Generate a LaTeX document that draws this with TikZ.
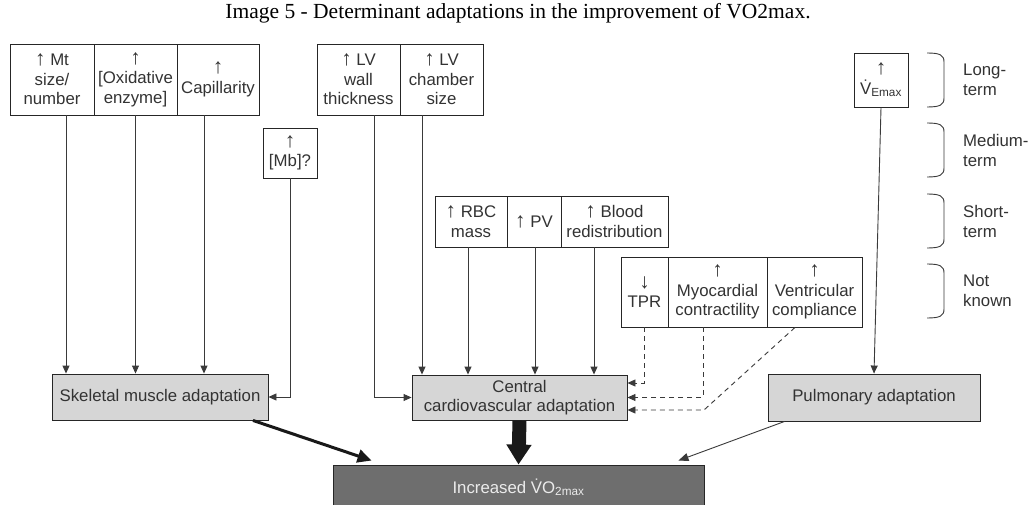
\documentclass[tikz,border=0pt]{standalone}
\usepackage{fontspec}
\setmainfont{Liberation Sans}
\newfontfamily\titlefont{Liberation Serif}
\usetikzlibrary{arrows.meta,calc}
\definecolor{boxgrey}{HTML}{D6D6D6}
\definecolor{incgrey}{HTML}{6E6E6E}
\definecolor{linegrey}{HTML}{3A3A3A}
\newcommand\upar{{\fontsize{21}{19.5}\selectfont ↑}}
\newcommand\downar{{\fontsize{21}{19.5}\selectfont ↓}}
\begin{document}
\begin{tikzpicture}[x=1pt,y=-1pt,
  cell/.style={draw=black!85, line width=0.9pt, fill=white, inner sep=1pt, align=center,
    font=\fontsize{16.8}{19.5}\selectfont, text=black!80},
  greybox/.style={cell, fill=boxgrey},
  arr/.style={draw=linegrey, line width=0.9pt, -{Triangle[length=8pt,width=7pt]}},
  darr/.style={arr, dash pattern=on 5pt off 4pt},
  bigarr/.style={draw=black!90, line width=3pt, -{Triangle[length=14pt,width=13pt]}},
  fatarr/.style={draw=black!90, line width=14pt, -{Triangle[length=20pt,width=24pt]}},
  brace/.style={draw=linegrey, line width=0.9pt},
  lbl/.style={align=left, anchor=west, inner sep=0pt, font=\fontsize{16.8}{20}\selectfont, text=black!80}
]
\fill[white] (0,0) rectangle (1033,505);
\useasboundingbox (0,0) rectangle (1033,505);

% title
\node[font=\titlefont\fontsize{21.5}{22}\selectfont, inner sep=0pt] (title) at (518,13)
  {Image 5 - Determinant adaptations in the improvement of VO2max.};

% skeletal muscle factors
\node[cell, minimum width=84, minimum height=71] (mt) at (52,79.5) {\upar\ Mt\\size/\\number};
\node[cell, minimum width=83, minimum height=71] (ox) at (135.5,79.5) {\upar\\{[}Oxidative\\enzyme]};
\node[cell, minimum width=82, minimum height=71] (cap) at (218,79.5) {\upar\\Capillarity};
\node[cell, minimum width=54, minimum height=50] (mb) at (290,153) {\upar\\{[}Mb]?};

% LV factors
\node[cell, minimum width=83, minimum height=71] (lvw) at (358.5,79.5) {\upar\ LV\\wall\\thickness};
\node[cell, minimum width=83, minimum height=71] (lvc) at (441.5,79.5) {\upar\ LV\\chamber\\size};

% short-term
\node[cell, minimum width=72, minimum height=51] (rbc) at (471,221.5) {\upar\ RBC\\mass};
\node[cell, minimum width=54, minimum height=51] (pv) at (534,221.5) {\upar\ PV};
\node[cell, minimum width=107, minimum height=51] (blood) at (614.5,221.5) {\upar\ Blood\\redistribution};

% not known
\node[cell, minimum width=47, minimum height=70] (tpr) at (644.5,292) {\downar\\TPR};
\node[cell, minimum width=99, minimum height=70] (myo) at (717.5,292) {\upar\\Myocardial\\contractility};
\node[cell, minimum width=95, minimum height=70] (vent) at (814.5,292) {\upar\\Ventricular\\compliance};

% pulmonary factor
\node[cell, minimum width=54, minimum height=54] (vemax) at (881,80) {\upar\\\.V\textsubscript{Emax}};

% adaptation boxes
\node[greybox, minimum width=216, minimum height=46] (skel) at (160,397) {Skeletal muscle adaptation};
\node[greybox, minimum width=215, minimum height=45] (cen) at (519.5,397.5) {Central\\cardiovascular adaptation};
\node[greybox, minimum width=212, minimum height=47] (pulm) at (874,397.5) {Pulmonary adaptation};
\node[cell, fill=incgrey, text=white!92!black, minimum width=371, minimum height=45] (inc) at (518.5,487.5)
  {Increased \.VO\textsubscript{2max}};

% brackets and labels
\foreach \t/\txt/\nm in {53/{Long-\\term}/lt, 123/{Medium-\\term}/mt2, 194/{Short-\\term}/st, 264/{Not\\known}/nk}{
  \draw[brace] (927,\t) .. controls (940,\t) and (944,\t+2) .. (944,\t+9) -- (944,\t+45)
     .. controls (944,\t+52) and (940,\t+54) .. (927,\t+54);
  \node[lbl] (\nm) at (963,\t+27) {\txt};
}

% connector start points
\coordinate (smt) at ($(mt.south)+(14,0)$);
\coordinate (sox) at (ox.south);
\coordinate (scap) at ($(cap.south)+(-14,0)$);
\coordinate (slvw) at ($(lvw.south)+(15.5,0)$);
\coordinate (slvc) at ($(lvc.south)+(-19.5,0)$);
\coordinate (srbc) at ($(rbc.south)+(-3,0)$);
\coordinate (spv) at ($(pv.south)+(1,0)$);
\coordinate (sblood) at ($(blood.south)+(-20.5,0)$);
\coordinate (stpr) at (tpr.south);
\coordinate (smyo) at ($(myo.south)+(-14.5,0)$);
\coordinate (svent) at ($(vent.south)+(-19.5,0)$);
\coordinate (vbend) at (704,410);
\coordinate (ce1) at ($(cen.east)+(0,-14.5)$);
\coordinate (ce3) at ($(cen.east)+(0,12.5)$);

% skeletal arrows
\draw[arr] (smt) -- (smt |- skel.north);
\draw[arr] (sox) -- (sox |- skel.north);
\draw[arr] (scap) -- (scap |- skel.north);
\draw[arr] (mb.south) |- (skel.east);

% central arrows
\draw[arr] (slvw) |- (cen.west);
\draw[arr] (slvc) -- (slvc |- cen.north);
\draw[arr] (srbc) -- (srbc |- cen.north);
\draw[arr] (spv) -- (spv |- cen.north);
\draw[arr] (sblood) -- (sblood |- cen.north);
\draw[darr] (stpr) |- (ce1);
\draw[darr] (smyo) |- (cen.east);
\draw[darr] (svent) -- (vbend) -- (ce3);

% pulmonary
\draw[arr] (vemax.south) -- (pulm.north);

% to increased VO2max
\coordinate (sk1) at ($(skel.south)+(93,0)$);
\coordinate (in1) at ($(inc.north west)+(39,-4)$);
\coordinate (pu1) at ($(pulm.south west)+(17,0)$);
\coordinate (in3) at ($(inc.north east)+(-26,-4)$);
\draw[bigarr] (sk1) -- (in1);
\draw[fatarr] (cen.south) -- (inc.north);
\draw[arr, -{Triangle[length=10pt,width=8pt]}] (pu1) -- (in3);
\end{tikzpicture}
\end{document}
